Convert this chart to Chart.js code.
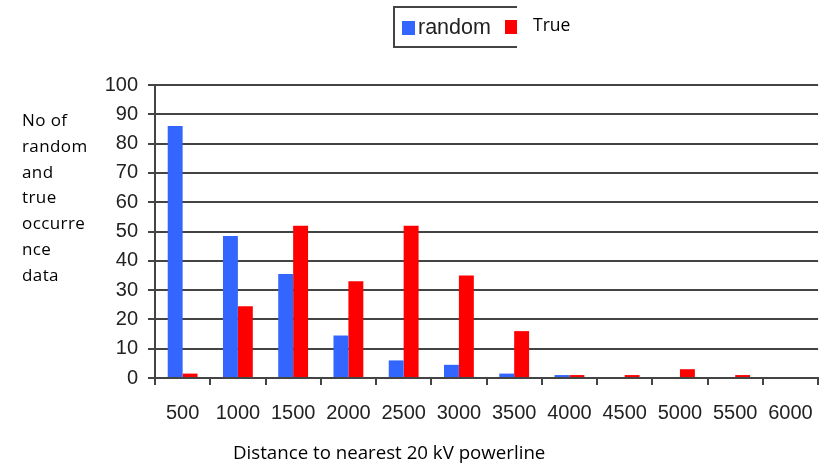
<!DOCTYPE html>
<html>
<head>
<meta charset="utf-8">
<script src="https://cdn.jsdelivr.net/npm/chart.js@4"></script>
<style>
  body { margin: 0; background: #fff; }
  #wrap { position: relative; width: 829px; height: 464px; }
  #legendBox { position: absolute; left: 393px; top: 6px; width: 122px; height: 38px;
    border: 2px solid #444; border-right: none; overflow: hidden; }
  .sw { position: absolute; width: 13px; height: 14px; }
  #lgRandom { position: absolute; left: 23px; top: 7px; font: 21.5px "Liberation Sans", Arial, sans-serif; color: #222; white-space: nowrap; }
  #lgTrue { position: absolute; left: 533px; top: 12px; font: 17.5px "Open Sans", sans-serif; color: #000; }
  #yTitle { position: absolute; left: 22px; top: 107px; font: 17px "Open Sans", sans-serif; letter-spacing: 0.4px; line-height: 25.8px; color: #000; }
  #xTitle { position: absolute; left: 233px; top: 439px; font: 18.7px "Open Sans", sans-serif; color: #000; white-space: nowrap; }
</style>
</head>
<body>
<div id="wrap">
  <canvas id="myChart" width="829" height="464"></canvas>
  <div id="legendBox">
    <div class="sw" style="left:7px;top:13px;background:#3366ff"></div>
    <div id="lgRandom">random</div>
    <div class="sw" style="left:110px;top:12px;background:#ff0000"></div>
  </div>
  <div id="lgTrue">True</div>
  <div id="yTitle">No of<br>random<br>and<br>true<br>occurre<br>nce<br>data</div>
  <div id="xTitle">Distance to nearest 20 kV powerline</div>
</div>
<script>
const distances = ['500', '1000', '1500', '2000', '2500', '3000', '3500', '4000', '4500', '5000', '5500', '6000'];
const randomCounts = [86, 48.5, 35.5, 14.5, 6, 4.5, 1.5, 1, 0, 0, 0, 0];
const trueCounts = [1.5, 24.5, 52, 33, 52, 35, 16, 1, 1, 3, 1, 0];
const yTicks = [0, 10, 20, 30, 40, 50, 60, 70, 80, 90, 100];

const getChart = document.getElementById('myChart');

const distChart = new Chart(getChart, {
    type: 'bar',
    data: {
        labels: distances,
        datasets: [{
            label: 'random',
            data: randomCounts,
            backgroundColor: '#3366ff',
            categoryPercentage: 0.54,
            barPercentage: 1
        }, {
            label: 'True',
            data: trueCounts,
            backgroundColor: '#ff0000',
            categoryPercentage: 0.54,
            barPercentage: 1
        }]
    },
    options: {
        responsive: false,
        animation: false,
        layout: { padding: { top: 85, right: 7, left: 0, bottom: 0 } },
        plugins: { legend: { display: false }, tooltip: { enabled: false } },
        scales: {
            x: {
                afterFit: s => { s.height = 86; },
                grid: { offset: true, drawOnChartArea: false, tickLength: 7, color: '#444', lineWidth: 2 },
                border: { color: '#444', width: 2 },
                ticks: { color: '#222', font: { family: 'Liberation Sans', size: 20 }, padding: 16, maxRotation: 0, autoSkip: false }
            },
            y: {
                min: 0,
                max: 100,
                afterFit: s => { s.width = 155; },
                afterBuildTicks: s => { s.ticks = yTicks.map(v => ({ value: v })); },
                grid: { color: '#444', lineWidth: 2, tickLength: 7 },
                border: { color: '#444', width: 2 },
                ticks: { color: '#222', font: { family: 'Liberation Sans', size: 20 }, padding: 10 }
            }
        }
    }
});
</script>
</body>
</html>
